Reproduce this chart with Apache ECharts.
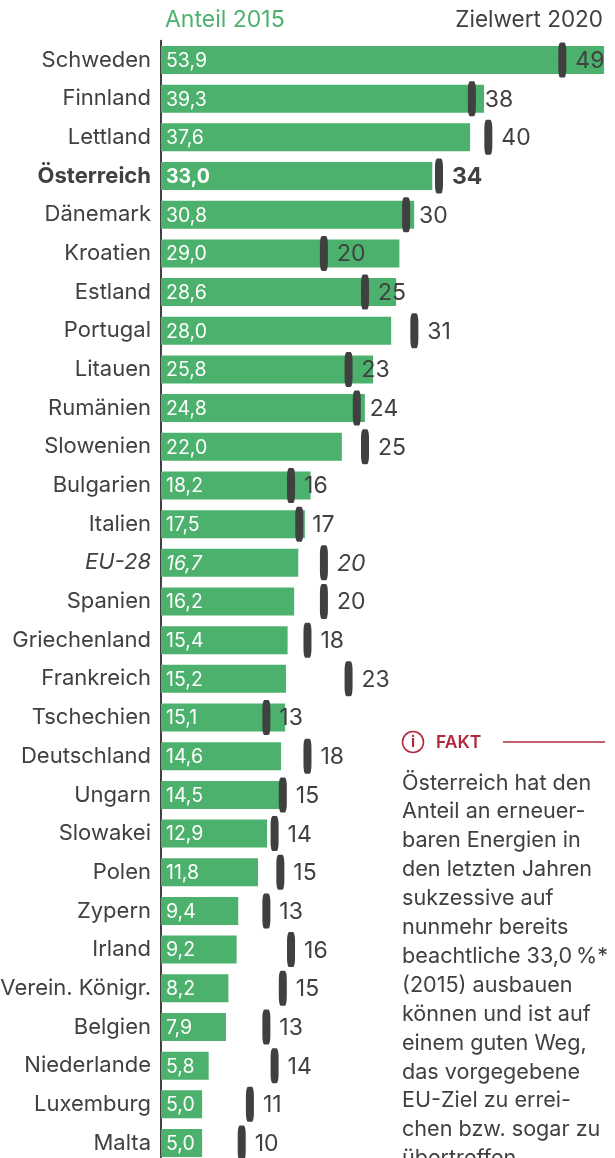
<!DOCTYPE html>
<html><head><meta charset="utf-8">
<style>html,body{margin:0;padding:0;background:#fff;overflow:hidden;height:1158px}#c{width:615px;height:1158px}</style>
<script src="https://cdn.jsdelivr.net/npm/echarts@6/dist/echarts.min.js"></script>
</head><body><div id="c"></div>
<script>
const categories = ["Schweden","Finnland","Lettland","Österreich","Dänemark","Kroatien","Estland","Portugal","Litauen","Rumänien","Slowenien","Bulgarien","Italien","EU-28","Spanien","Griechenland","Frankreich","Tschechien","Deutschland","Ungarn","Slowakei","Polen","Zypern","Irland","Verein. Königr.","Belgien","Niederlande","Luxemburg","Malta"];
const share2015 = [53.9,39.3,37.6,33.0,30.8,29.0,28.6,28.0,25.8,24.8,22.0,18.2,17.5,16.7,16.2,15.4,15.2,15.1,14.6,14.5,12.9,11.8,9.4,9.2,8.2,7.9,5.8,5.0,5.0];
const target2020 = [49,38,40,34,30,20,25,31,23,24,25,16,17,20,20,18,23,13,18,15,14,14.7,13,16,15,13,14,11,10];
const factLines = ["Österreich hat den","Anteil an erneuer-","baren Energien in","den letzten Jahren","sukzessive auf","nunmehr bereits","beachtliche 33,0\u2009%*","(2015) ausbauen","können und ist auf","einem guten Weg,","das vorgegebene","EU-Ziel zu errei-","chen bzw. sogar zu","übertreffen."];
const DARK = "#404040", GREEN = "#4cb16c", RED = "#b02a3e", FONT = "Inter";
const styleFor = c => c === "Österreich" ? {fontWeight:"bold"} : c === "EU-28" ? {fontStyle:"italic"} : {};

const chart = echarts.init(document.getElementById("c"), null, {renderer:"canvas"});
chart.setOption({
  animation:false,
  textStyle:{fontFamily:FONT},
  grid:{left:161, top:40.66, width:443.9, height:1121.7, outerBoundsMode:"none", containLabel:false},
  xAxis:{type:"value", min:0, max:54, show:false},
  yAxis:{type:"category", inverse:true, data:categories.map(c=>({value:c, textStyle:styleFor(c)})),
    axisTick:{show:false}, axisLine:{show:true, lineStyle:{color:DARK,width:2}},
    axisLabel:{fontFamily:FONT, fontSize:22, color:DARK, margin:10, interval:0, padding:[2,0,0,0]}},
  series:[
    {type:"bar", barWidth:28, data:share2015.map((v,i)=>({value:v, label:styleFor(categories[i])})), itemStyle:{color:GREEN},
     label:{show:true, position:"insideLeft", distance:5, offset:[0,1], color:"#fff", fontFamily:FONT, fontSize:19.5,
       formatter:p=>p.value.toFixed(1).replace(".",",")}},
    {type:"scatter", symbol:"roundRect", symbolSize:[8,35], symbolOffset:[-1.5,0], z:5,
     itemStyle:{color:DARK, opacity:1},
     data:target2020.map((v,i)=>({value:[v,categories[i]], label:styleFor(categories[i])})),
     label:{show:true, position:"right", distance:9, offset:[0,1], color:DARK, fontFamily:FONT, fontSize:23,
       formatter:p=>String(Math.round(p.value[0]))}}
  ],
  graphic:[
    {type:"text", left:165, top:9, style:{text:"Anteil 2015", fill:GREEN, font:"23px "+FONT}},
    {type:"text", right:12, top:9, style:{text:"Zielwert 2020", fill:DARK, font:"22.5px "+FONT}},
    {type:"circle", shape:{cx:413,cy:742,r:10.5}, style:{fill:"none", stroke:RED, lineWidth:1.6}},
    {type:"text", x:413, y:742, style:{text:"i", fill:RED, font:"bold 15px "+FONT, align:"center", verticalAlign:"middle"}},
    {type:"text", x:436, y:743, style:{text:"FAKT", fill:RED, font:"600 17.5px "+FONT, verticalAlign:"middle", letterSpacing:1}},
    {type:"line", shape:{x1:503,y1:742,x2:605,y2:742}, style:{stroke:RED, lineWidth:1.4}},
    ...factLines.map((t,i)=>({type:"text", x:402, y:783+i*28.9, style:{text:t, fill:DARK, font:"21.6px "+FONT, verticalAlign:"middle"}}))
  ]
});
</script></body></html>
